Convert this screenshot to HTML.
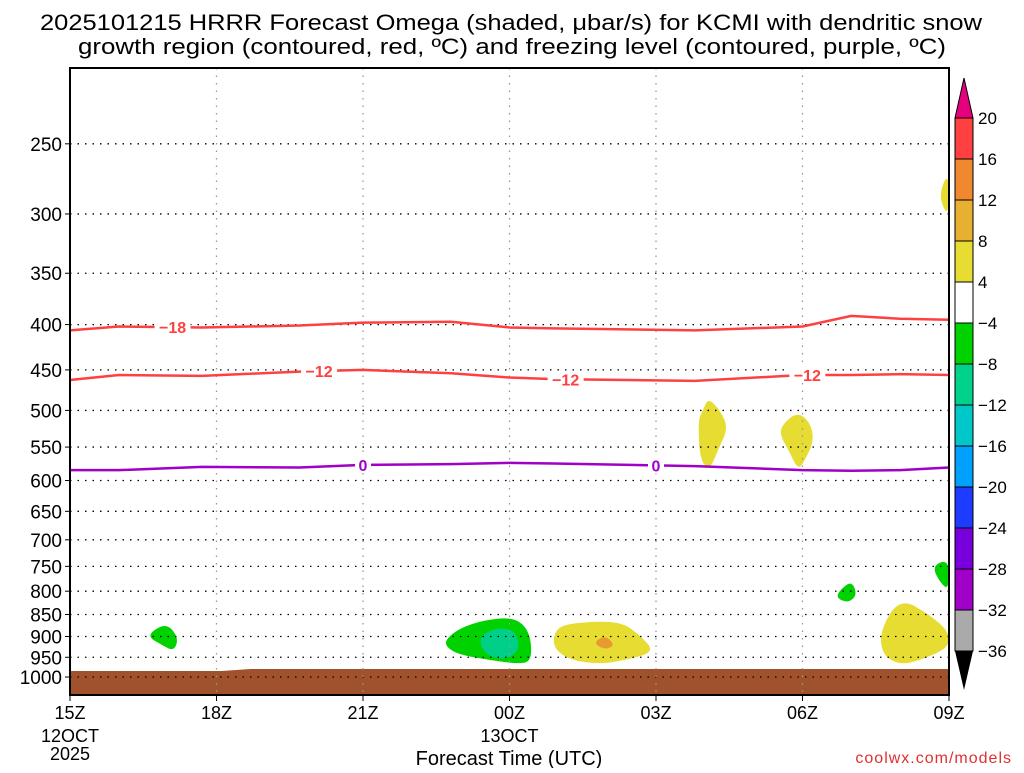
<!DOCTYPE html>
<html><head><meta charset="utf-8"><style>
body{margin:0;background:#fff;width:1024px;height:768px;overflow:hidden}
svg text{font-family:"Liberation Sans Narrow","Liberation Sans",sans-serif}
</style></head><body>
<svg id="c" width="1024" height="768" viewBox="0 0 1024 768" xmlns="http://www.w3.org/2000/svg">
<text x="511" y="30" font-size="22" text-anchor="middle" textLength="942" lengthAdjust="spacingAndGlyphs" fill="#000">2025101215 HRRR Forecast Omega (shaded, μbar/s) for KCMI with dendritic snow</text>
<text x="512" y="54" font-size="22" text-anchor="middle" textLength="868" lengthAdjust="spacingAndGlyphs" fill="#000">growth region (contoured, red, ºC) and freezing level (contoured, purple, ºC)</text>
<g id="plot"></g>
<g id="cbar"></g>
<text x="509" y="765" font-size="20" text-anchor="middle" fill="#000">Forecast Time (UTC)</text>
<text x="1012" y="763" font-size="16" text-anchor="end" fill="#e03030" letter-spacing="1">coolwx.com/models</text>
</svg>
<script>
const NS='http://www.w3.org/2000/svg';
const L=70,R=949,T=68,B=695;
const pLevels=[250,300,350,400,450,500,550,600,650,700,750,800,850,900,950,1000];
const xTickHours=[0,3,6,9,12,15,18];
const xTickLabels=['15Z','18Z','21Z','00Z','03Z','06Z','09Z'];
const contourHours=[0,1,2.7,4.7,6,7.8,9,9.9,12.8,15,16,17,18];
const tm18=[406,402,403,401,398,397,403,404,406,402,391,394,395];
const tm12=[462,456,457,452,450,454,459,461,463,456,456,455,456];
const frz0=[584,584,579,580,576,575,573,574,578,584,585,584,580];
const blobs=[
 {c:'#00d200',pts:[[1.57,899],[1.88,873],[2.08,880],[2.22,908],[2.12,935],[1.88,920]]},
 {c:'#00d200',pts:[[7.68,908],[7.99,880],[8.5,862],[9.11,856],[9.42,889],[9.46,957],[9.22,967],[8.6,957],[7.99,944],[7.72,927]]},
 {c:'#00cf8a',pts:[[8.36,903],[8.7,880],[9.11,884],[9.22,932],[8.91,957],[8.5,944]]},
 {c:'#e6dc32',pts:[[9.93,884],[10.24,869],[11.26,864],[11.67,897],[11.98,937],[11.37,957],[10.85,967],[10.24,957],[9.89,927]]},
 {c:'#e89a30',pts:[[10.71,915],[10.96,897],[11.16,920],[10.96,932]]},
 {c:'#e6dc32',pts:[[12.96,500],[13.07,484],[13.31,500],[13.48,523],[13.27,554],[13.1,584],[12.9,569],[12.86,513]]},
 {c:'#e6dc32',pts:[[14.58,519],[14.89,502],[15.15,515],[15.24,540],[15.05,569],[14.91,584],[14.71,554],[14.54,533]]},
 {c:'#00d200',pts:[[15.77,797],[16.01,779],[16.12,808],[15.93,825],[15.69,814]]},
 {c:'#00d200',pts:[[17.65,749],[18,736],[18,797],[17.82,783]]},
 {c:'#e6dc32',pts:[[16.59,884],[17.0,814],[17.61,851],[18,889],[18,927],[17.41,957],[17,969],[16.63,944]]},
 {c:'#e6dc32',pts:[[18,268],[17.78,286],[18,304]]}
];
const cbLabels=['20','16','12','8','4','−4','−8','−12','−16','−20','−24','−28','−32','−36'];
const cbColors=['#ff4040','#f08830','#e8b030','#e6dc32','#ffffff','#00d200','#00d28c','#00c8c8','#00a0ff','#1e3cff','#7800dc','#a000c8','#aaaaaa'];
function X(h){return L+(R-L)*h/18;}
function Y(p){return 677-384.6*Math.log(1000/p);}
function el(tag,attrs,parent){const e=document.createElementNS(NS,tag);for(const k in attrs)e.setAttribute(k,attrs[k]);parent.appendChild(e);return e;}
const g=document.getElementById('plot');
function smoothPath(P){
 const n=P.length;const m=i=>P[(i+n)%n];
 let d='M'+((m(0)[0]+m(1)[0])/2)+','+((m(0)[1]+m(1)[1])/2);
 for(let i=1;i<=n;i++){const a=m(i),b=m(i+1);d+=' Q'+a[0]+','+a[1]+' '+((a[0]+b[0])/2)+','+((a[1]+b[1])/2);}
 return d+'Z';
}
blobs.forEach(b=>{
 const P=b.pts.map(q=>[X(q[0]),Y(q[1])]);
 const e=el('path',{d:smoothPath(P),fill:b.c},g);
 
 
});
const gr=el('polygon',{points:`${L},${B} ${L},671 ${X(3.1)},671 ${X(3.7)},669 ${R},669 ${R},${B}`,fill:'#a0522d'},g);


pLevels.forEach(p=>{
 const ln=el('line',{x1:L,x2:R,y1:Y(p),y2:Y(p),stroke:'#000','stroke-width':1.3,'stroke-dasharray':'1.5 6'},g);
 
 
 const tk=el('line',{x1:L-5,x2:L,y1:Y(p),y2:Y(p),stroke:'#000'},g);
 
 
 const t=el('text',{x:L-8,y:Y(p)+7,'font-size':19,'text-anchor':'end',fill:'#000'},g);
 t.textContent=p;
 
 
});
xTickHours.forEach((h,i)=>{
 if(i>0&&i<6){const v=el('line',{x1:X(h),x2:X(h),y1:T,y2:B,stroke:'#999','stroke-width':1.3,'stroke-dasharray':'1.5 6'},g);
 
 }
 const tk=el('line',{x1:X(h),x2:X(h),y1:B,y2:B+6,stroke:'#000'},g);
 
 
 const t=el('text',{x:X(h),y:B+24,'font-size':18,'text-anchor':'middle',fill:'#000'},g);
 t.textContent=xTickLabels[i];
 
 
});
[['12OCT',0,742],['2025',0,760],['13OCT',9,742]].forEach(a=>{
 const t=el('text',{x:X(a[1]),y:a[2],'font-size':18,'text-anchor':'middle',fill:'#000'},g);
 t.textContent=a[0];
 
 
});
function contour(vals,color,name,labs,txt){
 const pts=contourHours.map((h,i)=>[X(h),Y(vals[i])]);
 let d='M'+pts[0];
 for(let i=1;i<pts.length;i++)d+=' L'+pts[i];
 const pa=el('path',{d:d,fill:'none',stroke:color,'stroke-width':2.5,'stroke-linejoin':'round'},g);
 
 
 labs.forEach(h=>{
  let i=0;while(i<contourHours.length-2&&contourHours[i+1]<h)i++;
  const f=(h-contourHours[i])/(contourHours[i+1]-contourHours[i]);
  const y=Y(vals[i]+(vals[i+1]-vals[i])*f),x=X(h);
  const w=txt.length*10+6;
  el('rect',{x:x-w/2,y:y-8,width:w,height:16,fill:'#fff'},g);
  const t=el('text',{x:x,y:y+6,'font-size':16,'font-weight':'bold','text-anchor':'middle',fill:color},g);
  t.textContent=txt;
  
  
 });
}
contour(tm18,'#ff4040','contour-minus18',[2.1],'−18');
contour(tm12,'#ff4040','contour-minus12',[5.1,10.15,15.1],'−12');
contour(frz0,'#a000c8','freezing-level-contour',[6,12],'0');
const fr=el('rect',{x:L,y:T,width:R-L,height:B-T,fill:'none',stroke:'#000','stroke-width':2},g);


const cb=document.getElementById('cbar');
const cx=955,cw=18,c0=118,step=41;
const up=el('polygon',{points:`${cx},${c0} ${cx+cw/2},78 ${cx+cw},${c0}`,fill:'#e6007e',stroke:'#000'},cb);


cbColors.forEach((c,i)=>{
 const r=el('rect',{x:cx,y:c0+i*step,width:cw,height:step,fill:c,stroke:'#000','stroke-width':1},cb);
 
 
});
const dn=el('polygon',{points:`${cx},${c0+13*step} ${cx+cw/2},690 ${cx+cw},${c0+13*step}`,fill:'#000'},cb);


cbLabels.forEach((s,i)=>{
 const t=el('text',{x:978,y:c0+i*step+6,'font-size':17,fill:'#000'},cb);
 t.textContent=s;
 
 
});
</script>
</body></html>
